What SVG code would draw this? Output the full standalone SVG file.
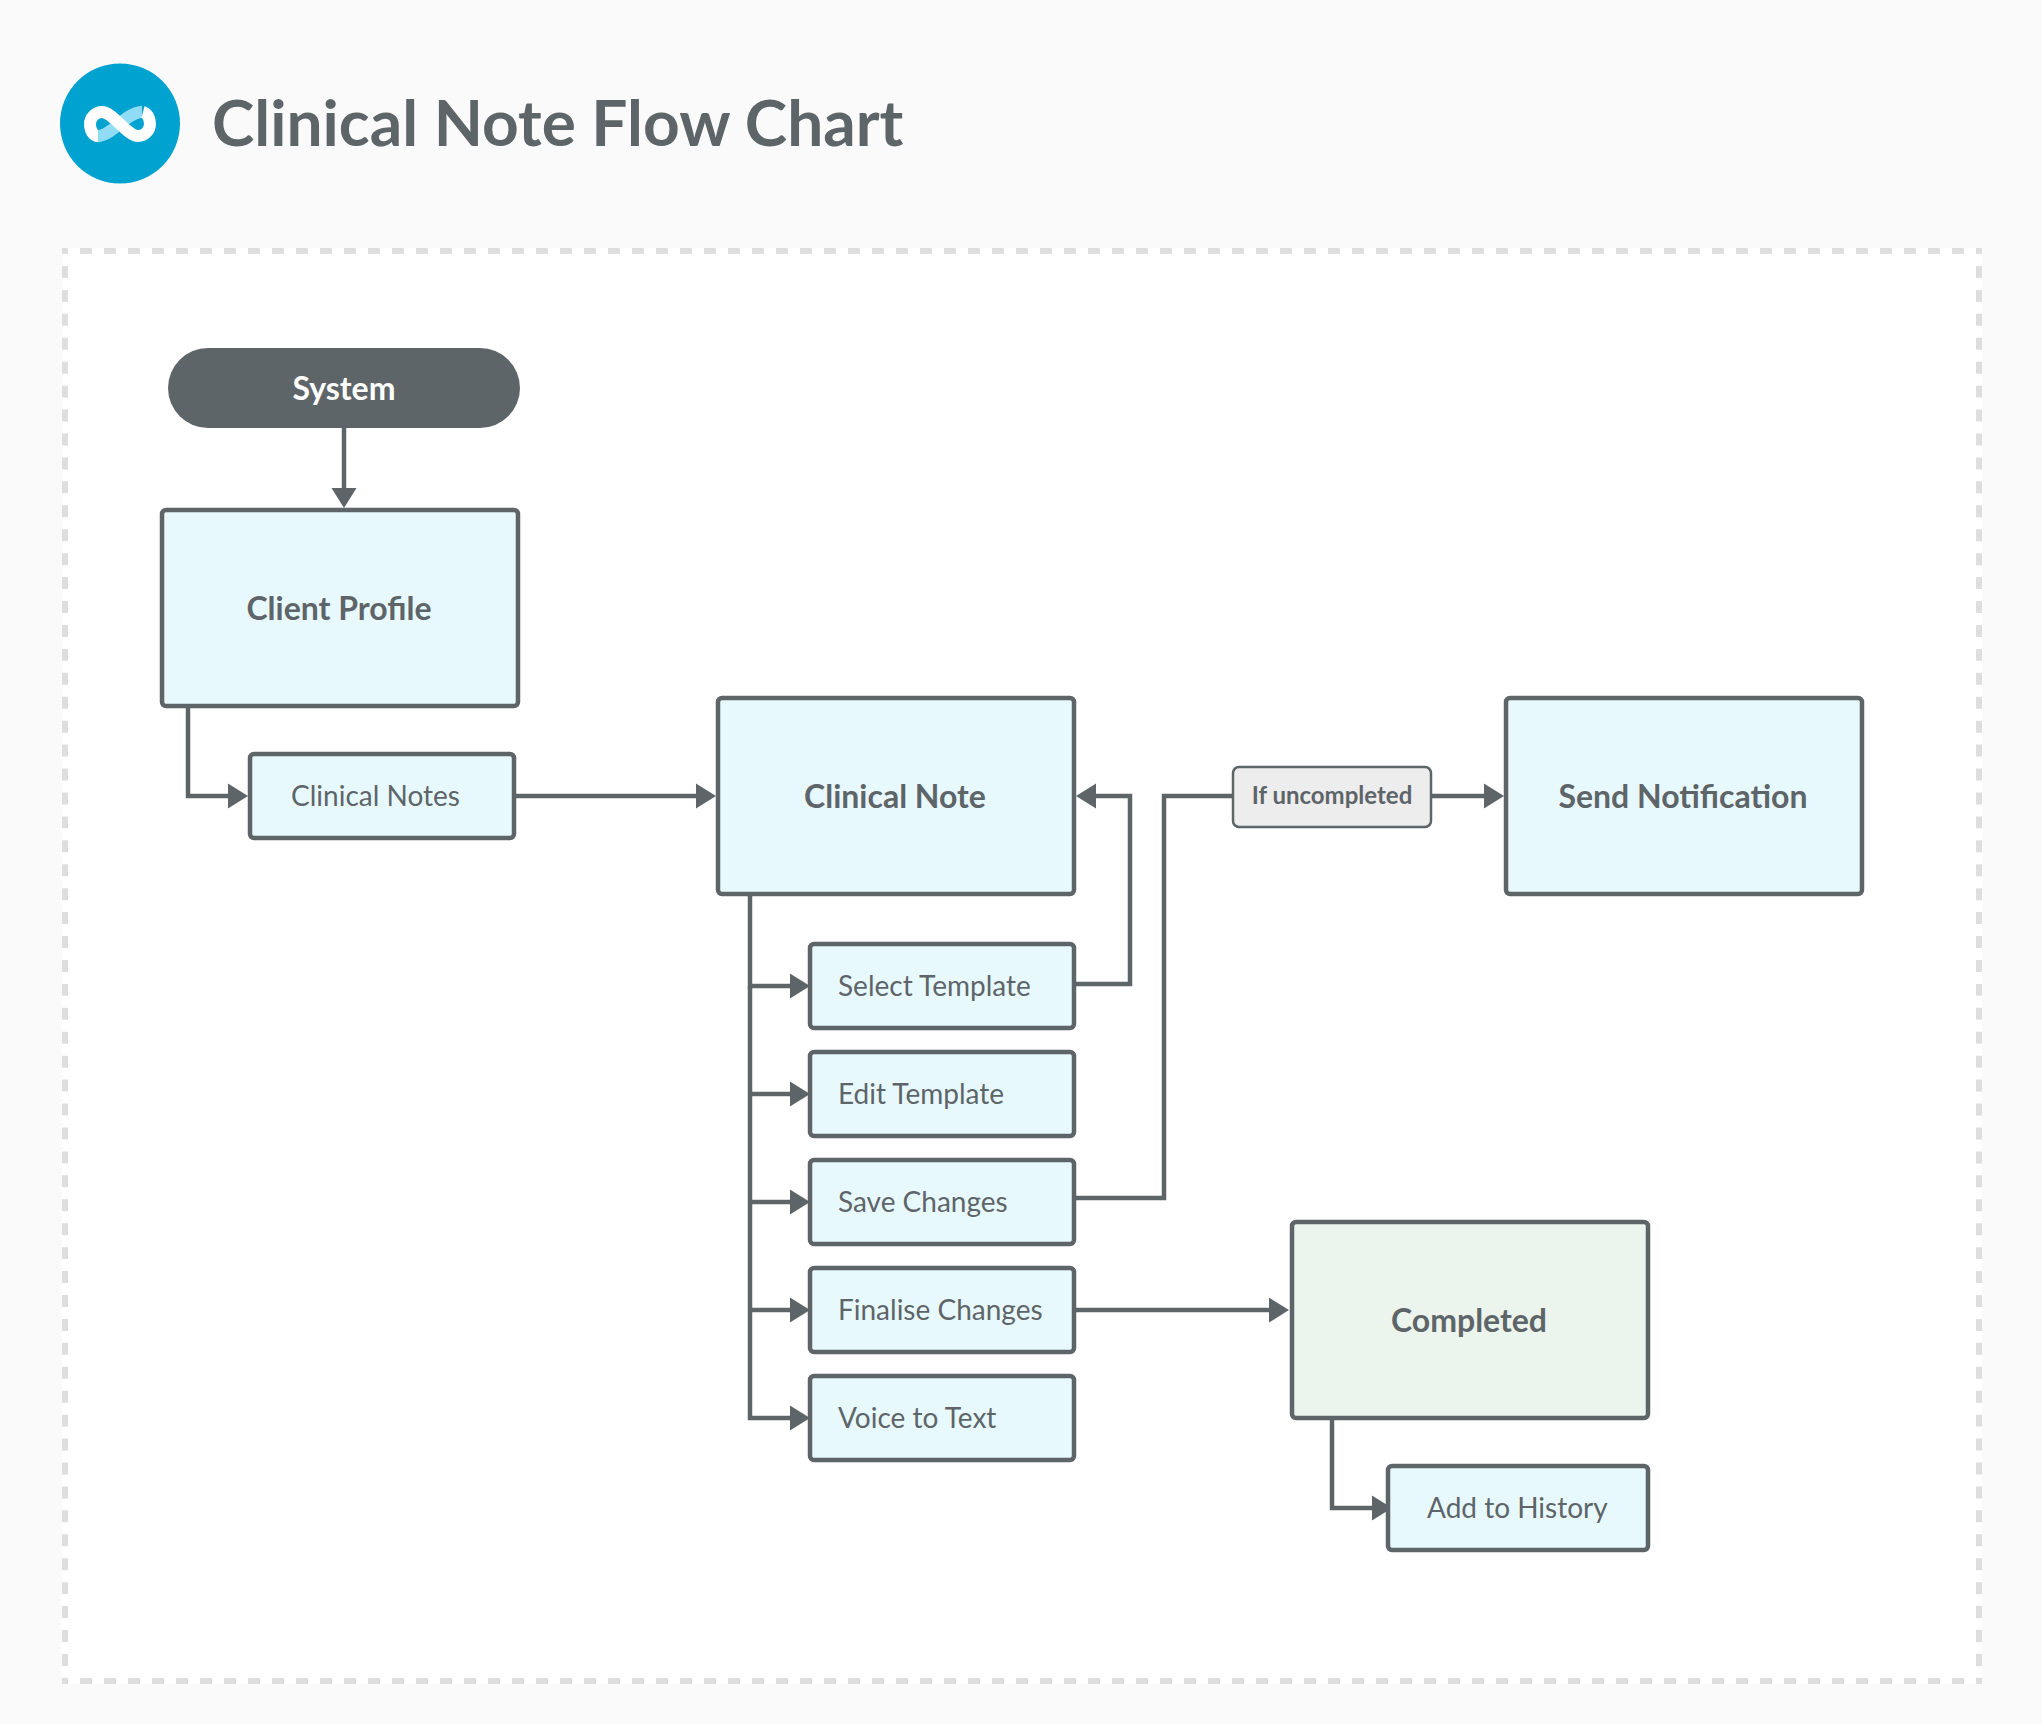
<svg xmlns="http://www.w3.org/2000/svg" width="2042" height="1724" viewBox="0 0 2042 1724">
<style>
text{font-family:Lato,"Liberation Sans",sans-serif;fill:#5E6569}
.box{fill:#E8F9FE;stroke:#5E6569;stroke-width:4.5}
.big{font-size:32px;font-weight:700;text-anchor:middle}
.small{font-size:28px}
.conn{fill:none;stroke:#5E6569;stroke-width:4.5}
.fh{stroke:#DEDEDE;stroke-width:6;stroke-dasharray:12 12;stroke-dashoffset:6}
.fv{stroke:#DEDEDE;stroke-width:6;stroke-dasharray:11.97 11.96;stroke-dashoffset:5.93}
</style>
<defs>
<marker id="arrow" markerUnits="userSpaceOnUse" markerWidth="21" markerHeight="26" refX="0" refY="13" orient="auto"><path d="M0,0.5L20,13L0,25.5Z" fill="#5E6569"/></marker>
</defs>
<rect width="2042" height="1724" fill="#FAFAFA"/>
<g id="frame">
<rect x="62" y="248" width="1920" height="1436" fill="#FFFFFF"/>
<line class="fh" x1="62" y1="251" x2="1982" y2="251"/>
<line class="fh" x1="62" y1="1681" x2="1982" y2="1681"/>
<line class="fv" x1="65" y1="248" x2="65" y2="1684"/>
<line class="fv" x1="1979" y1="248" x2="1979" y2="1684"/>
</g>
<g id="logo">
<circle cx="120" cy="123.5" r="60" fill="#00A2D0"/>
<path d="M98,136C112,136 126,112 142,112" fill="none" stroke="#90DCF5" stroke-width="12"/>
<path d="M98,136C93,136 90,130 90,124C90,118 95,112 102,112C113,112 127,136 138,136C145,136 150,130 150,124C150,118 147,113 143,112" fill="none" stroke="#FFFFFF" stroke-width="12"/>
</g>
<text id="title" x="212" y="146" font-size="64" font-weight="700">Clinical Note Flow Chart</text>
<g id="connectors">
<path class="conn" d="M344,428V488" marker-end="url(#arrow)"/>
<path class="conn" d="M188,708V796H228" marker-end="url(#arrow)"/>
<path class="conn" d="M516,796H696" marker-end="url(#arrow)"/>
<path class="conn" d="M750,896V986H790" marker-end="url(#arrow)"/>
<path class="conn" d="M750,1094H790" marker-end="url(#arrow)"/>
<path class="conn" d="M750,1202H790" marker-end="url(#arrow)"/>
<path class="conn" d="M750,1310H790" marker-end="url(#arrow)"/>
<path class="conn" d="M750,986V1418H790" marker-end="url(#arrow)"/>
<path class="conn" d="M1076,984H1130V796H1096" marker-end="url(#arrow)"/>
<path class="conn" d="M1076,1198H1164V796H1233"/>
<path class="conn" d="M1431,796H1484" marker-end="url(#arrow)"/>
<path class="conn" d="M1076,1310H1269" marker-end="url(#arrow)"/>
<path class="conn" d="M1332,1420V1508H1372" marker-end="url(#arrow)"/>
</g>
<g id="node-system"><rect x="168" y="348" width="352" height="80" rx="40" fill="#5E6569"/><text class="big" x="344" y="400" style="fill:#fff">System</text></g>
<g id="node-client-profile"><rect class="box" x="162" y="510" width="356" height="196" rx="4"/><text class="big" x="339" y="620">Client Profile</text></g>
<g id="node-clinical-notes"><rect class="box" x="250" y="754" width="264" height="84" rx="4"/><text class="small" x="291" y="806">Clinical Notes</text></g>
<g id="node-clinical-note"><rect class="box" x="718" y="698" width="356" height="196" rx="4"/><text class="big" x="895" y="808">Clinical Note</text></g>
<g id="node-select-template"><rect class="box" x="810" y="944" width="264" height="84" rx="4"/><text class="small" x="838" y="996">Select Template</text></g>
<g id="node-edit-template"><rect class="box" x="810" y="1052" width="264" height="84" rx="4"/><text class="small" x="838" y="1104">Edit Template</text></g>
<g id="node-save-changes"><rect class="box" x="810" y="1160" width="264" height="84" rx="4"/><text class="small" x="838" y="1212">Save Changes</text></g>
<g id="node-finalise-changes"><rect class="box" x="810" y="1268" width="264" height="84" rx="4"/><text class="small" x="838" y="1320">Finalise Changes</text></g>
<g id="node-voice-to-text"><rect class="box" x="810" y="1376" width="264" height="84" rx="4"/><text class="small" x="838" y="1428">Voice to Text</text></g>
<g id="node-if-uncompleted"><rect x="1233" y="767" width="198" height="60" rx="6" fill="#EDEDED" stroke="#5E6569" stroke-width="2.5"/><text x="1332" y="804" font-size="24" font-weight="700" text-anchor="middle">If uncompleted</text></g>
<g id="node-send-notification"><rect class="box" x="1506" y="698" width="356" height="196" rx="4"/><text class="big" x="1683" y="808">Send Notification</text></g>
<g id="node-completed"><rect class="box" x="1292" y="1222" width="356" height="196" rx="4" style="fill:#EBF5ED"/><text class="big" x="1469" y="1332">Completed</text></g>
<g id="node-add-to-history"><rect class="box" x="1388" y="1466" width="260" height="84" rx="4"/><text class="small" x="1427" y="1518">Add to History</text></g>
</svg>
